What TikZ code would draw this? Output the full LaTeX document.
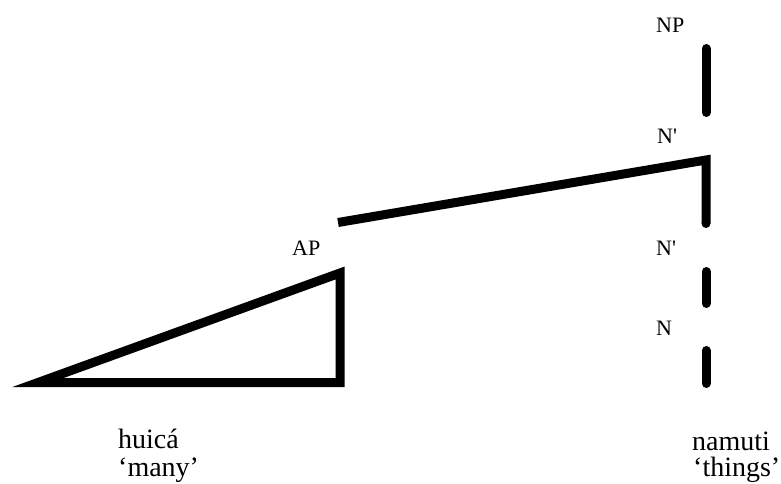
\documentclass[tikz,border=0pt]{standalone}
\usepackage{fontspec}
\setmainfont{Liberation Serif}
\begin{document}
\begin{tikzpicture}[x=1pt,y=-1pt,
  lab/.style={anchor=base west,inner sep=0pt,font=\fontsize{22}{25}\selectfont},
  word/.style={anchor=base west,inner sep=0pt,font=\fontsize{28}{32}\selectfont},
  branch/.style={line width=9pt,line cap=round},
  tri/.style={line width=9pt,line join=miter,miter limit=10}]
\useasboundingbox (0,0) rectangle (781,484);
% labels
\node[lab] (np) at (656,33) {NP};
\node[lab] (nbar1) at (657,143) {N\textquotesingle};
\node[lab] (nbar2) at (656,255) {N\textquotesingle};
\node[lab] (n) at (656,335) {N};
\node[lab] (ap) at (292,255) {AP};
\node[word] (huica) at (118,448) {huicá};
\node[word] (many) at (118,476) {`many'};
\node[word] (namuti) at (692,450) {namuti};
\node[word] (things) at (693,476) {`things'};
% coordinates of branch ends
\coordinate (npTop) at (706,48.5);
\coordinate (npBot) at (706,112.5);
\coordinate (apEnd) at (338,222.5);
\coordinate (nbarTop) at (706,160);
\coordinate (nbarBot) at (706,223.5);
\coordinate (nbar2Top) at (706,271.5);
\coordinate (nbar2Bot) at (706,303.5);
\coordinate (nTop) at (706,350.5);
\coordinate (nBot) at (706,383.5);
\coordinate (triA) at (340,273);
\coordinate (triB) at (340,382.5);
\coordinate (triC) at (38,382.5);
% branches
\draw[branch] (npTop) -- (npBot);
\draw[line width=9pt,line join=miter] (apEnd) -- (nbarTop) -- (nbarBot);
\fill (nbarBot) circle (4.5);
\draw[branch] (nbar2Top) -- (nbar2Bot);
\draw[branch] (nTop) -- (nBot);
% triangle
\draw[tri] (triA) -- (triB) -- (triC) -- cycle;
\end{tikzpicture}
\end{document}
